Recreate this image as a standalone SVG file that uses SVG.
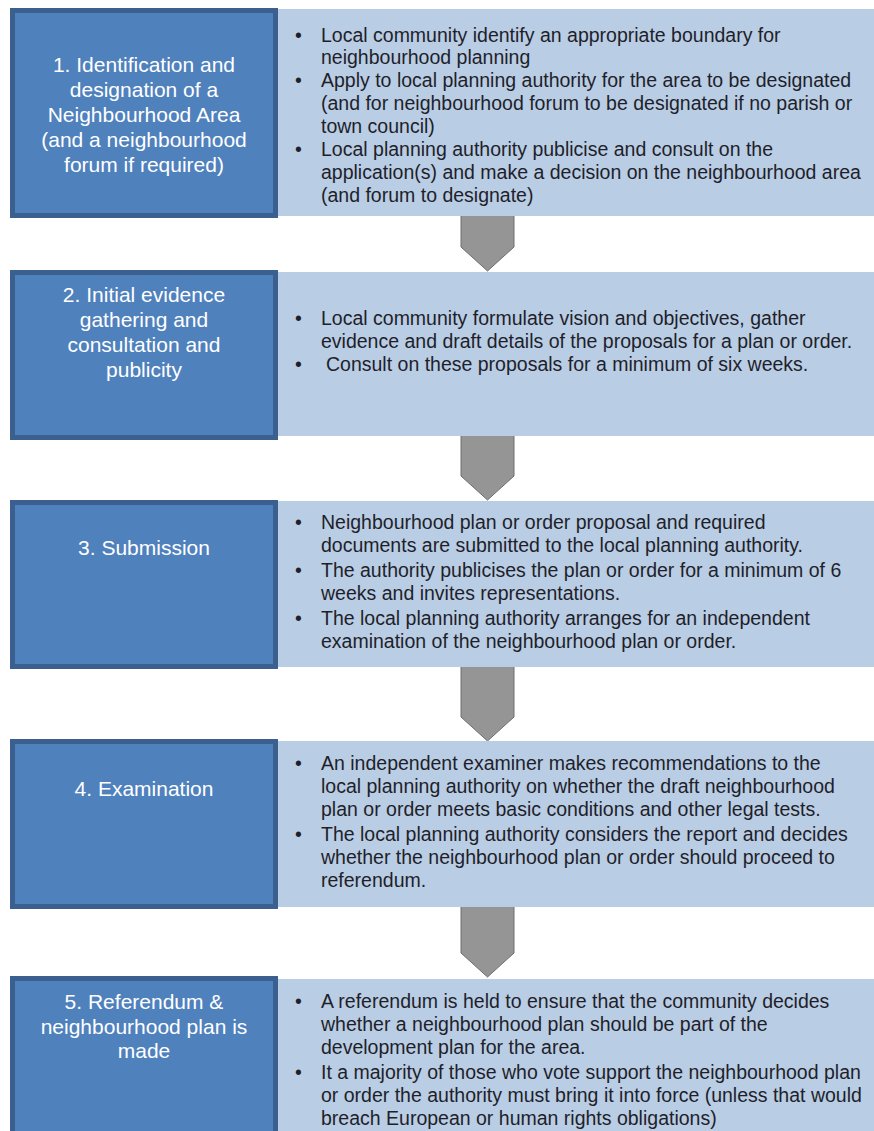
<svg xmlns="http://www.w3.org/2000/svg" width="874" height="1131" viewBox="0 0 874 1131">
<style>
.dark{fill:#4f81bd;stroke:#3b5f8e;stroke-width:5}
.light{fill:#b9cde5}
.arrow{fill:#959595;stroke:#6e6e6e;stroke-width:1}
.lt{font-family:"Liberation Sans",Arial,sans-serif;font-size:21px;fill:#ffffff;text-anchor:middle}
.rt{font-family:"Liberation Sans",Arial,sans-serif;font-size:19.5px;fill:#1f1f2a}
</style>
<rect width="874" height="1131" fill="#ffffff"/>
<g id="connectors">
<polygon class="arrow" points="461,214 514,214 514,247 487.5,271 461,247"/>
<polygon class="arrow" points="461,434 514,434 514,476 487.5,500 461,476"/>
<polygon class="arrow" points="461,665 514,665 514,717 487.5,741 461,717"/>
<polygon class="arrow" points="461,905 514,905 514,953 487.5,977 461,953"/>
</g>
<g id="step1">
<rect class="light" x="277" y="9" width="597" height="207"/>
<rect class="dark" x="12.5" y="10.5" width="263" height="205"/>
<text class="lt" x="144" y="71.5">1. Identification and</text>
<text class="lt" x="144" y="96.5">designation of a</text>
<text class="lt" x="144" y="121.5">Neighbourhood Area</text>
<text class="lt" x="144" y="146.5">(and a neighbourhood</text>
<text class="lt" x="144" y="171.5">forum if required)</text>
<text class="rt" x="295" y="42">•</text>
<text class="rt" x="321" y="42">Local community identify an appropriate boundary for</text>
<text class="rt" x="321" y="64">neighbourhood planning</text>
<text class="rt" x="295" y="87">•</text>
<text class="rt" x="321" y="87">Apply to local planning authority for the area to be designated</text>
<text class="rt" x="321" y="110">(and for neighbourhood forum to be designated if no parish or</text>
<text class="rt" x="321" y="133">town council)</text>
<text class="rt" x="295" y="156">•</text>
<text class="rt" x="321" y="156">Local planning authority publicise and consult on the</text>
<text class="rt" x="321" y="179">application(s) and make a decision on the neighbourhood area</text>
<text class="rt" x="321" y="202">(and forum to designate)</text>
</g>
<g id="step2">
<rect class="light" x="277" y="272" width="597" height="164"/>
<rect class="dark" x="12.5" y="272.5" width="263" height="165"/>
<text class="lt" x="144" y="301.5">2. Initial evidence</text>
<text class="lt" x="144" y="326.5">gathering and</text>
<text class="lt" x="144" y="351.5">consultation and</text>
<text class="lt" x="144" y="376.5">publicity</text>
<text class="rt" x="295" y="325">•</text>
<text class="rt" x="321" y="325">Local community formulate vision and objectives, gather</text>
<text class="rt" x="321" y="348">evidence and draft details of the proposals for a plan or order.</text>
<text class="rt" x="295" y="371">•</text>
<text class="rt" x="326" y="371">Consult on these proposals for a minimum of six weeks.</text>
</g>
<g id="step3">
<rect class="light" x="277" y="501" width="597" height="166"/>
<rect class="dark" x="12.5" y="502.5" width="263" height="164"/>
<text class="lt" x="144" y="554.5">3. Submission</text>
<text class="rt" x="295" y="529">•</text>
<text class="rt" x="321" y="529">Neighbourhood plan or order proposal and required</text>
<text class="rt" x="321" y="552">documents are submitted to the local planning authority.</text>
<text class="rt" x="295" y="577">•</text>
<text class="rt" x="321" y="577">The authority publicises the plan or order for a minimum of 6</text>
<text class="rt" x="321" y="600">weeks and invites representations.</text>
<text class="rt" x="295" y="625">•</text>
<text class="rt" x="321" y="625">The local planning authority arranges for an independent</text>
<text class="rt" x="321" y="648">examination of the neighbourhood plan or order.</text>
</g>
<g id="step4">
<rect class="light" x="277" y="741" width="597" height="166"/>
<rect class="dark" x="12.5" y="741.5" width="263" height="165"/>
<text class="lt" x="144" y="795.5">4. Examination</text>
<text class="rt" x="295" y="770">•</text>
<text class="rt" x="321" y="770">An independent examiner makes recommendations to the</text>
<text class="rt" x="321" y="793">local planning authority on whether the draft neighbourhood</text>
<text class="rt" x="321" y="816">plan or order meets basic conditions and other legal tests.</text>
<text class="rt" x="295" y="841">•</text>
<text class="rt" x="321" y="841">The local planning authority considers the report and decides</text>
<text class="rt" x="321" y="864">whether the neighbourhood plan or order should proceed to</text>
<text class="rt" x="321" y="887">referendum.</text>
</g>
<g id="step5">
<rect class="light" x="277" y="979" width="597" height="160"/>
<rect class="dark" x="12.5" y="978.5" width="263" height="170"/>
<text class="lt" x="144" y="1008.5">5. Referendum &amp;</text>
<text class="lt" x="144" y="1033.5">neighbourhood plan is</text>
<text class="lt" x="144" y="1057.5">made</text>
<text class="rt" x="295" y="1008">•</text>
<text class="rt" x="321" y="1008">A referendum is held to ensure that the community decides</text>
<text class="rt" x="321" y="1031">whether a neighbourhood plan should be part of the</text>
<text class="rt" x="321" y="1054">development plan for the area.</text>
<text class="rt" x="295" y="1079">•</text>
<text class="rt" x="321" y="1079">It a majority of those who vote support the neighbourhood plan</text>
<text class="rt" x="321" y="1102">or order the authority must bring it into force (unless that would</text>
<text class="rt" x="321" y="1125">breach European or human rights obligations)</text>
</g>
</svg>
